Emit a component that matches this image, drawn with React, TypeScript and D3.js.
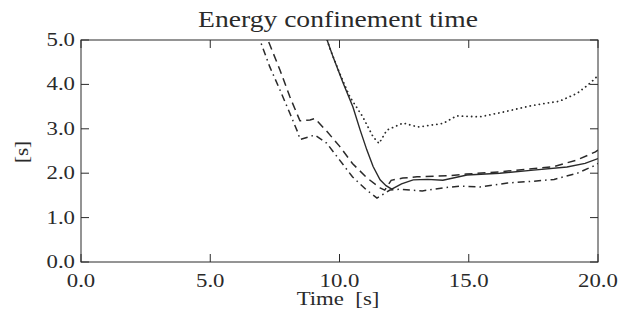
import React from "react";
import * as d3 from "d3";

const TITLE = "Energy confinement time";
const X_LABEL = "Time  [s]";
const Y_LABEL = "[s]";
const X_TICKS = [0, 5, 10, 15, 20];
const Y_TICKS = [0, 1, 2, 3, 4, 5];

// solid
const solidT = [9.2, 9.52, 9.75, 10.14, 10.52, 10.8, 11.06, 11.3, 11.57, 11.8, 12.02, 12.4, 12.85, 13.4, 14.0, 14.93, 16.2, 17.5, 18.8, 19.5, 20.0];
const solidV = [5.6, 5.0, 4.62, 4.03, 3.49, 2.97, 2.52, 2.15, 1.85, 1.72, 1.64, 1.76, 1.85, 1.86, 1.84, 1.96, 2.0, 2.07, 2.14, 2.22, 2.33];
// dotted
const dotT = [9.3, 9.6, 10.0, 10.4, 10.9, 11.3, 11.53, 11.83, 12.46, 13.04, 14.0, 14.53, 15.44, 16.2, 17.5, 18.5, 19.2, 19.7, 20.0];
const dotV = [5.5, 4.85, 4.26, 3.72, 3.27, 2.82, 2.67, 2.97, 3.13, 3.04, 3.12, 3.29, 3.27, 3.36, 3.53, 3.62, 3.8, 4.03, 4.2];
// dashed
const dashT = [6.9, 7.23, 7.7, 8.08, 8.47, 8.86, 9.05, 9.5, 10.0, 10.5, 11.05, 11.57, 11.75, 12.0, 12.45, 13.0, 14.15, 14.9, 16.2, 17.25, 18.3, 19.2, 19.9, 20.0];
const dashV = [5.5, 5.0, 4.32, 3.72, 3.18, 3.2, 3.23, 2.95, 2.61, 2.22, 1.9, 1.67, 1.62, 1.84, 1.89, 1.92, 1.94, 1.98, 2.03, 2.09, 2.15, 2.3, 2.48, 2.52];
// dash-dot
const ddT = [6.6, 6.92, 7.3, 7.7, 8.08, 8.4, 8.47, 9.05, 9.5, 10.0, 10.5, 11.05, 11.45, 11.95, 12.35, 13.2, 14.0, 14.66, 15.44, 16.5, 17.5, 18.3, 19.2, 19.9, 20.0];
const ddV = [5.5, 5.0, 4.4, 3.87, 3.35, 2.9, 2.76, 2.86, 2.68, 2.3, 1.92, 1.62, 1.44, 1.62, 1.64, 1.6, 1.67, 1.71, 1.69, 1.78, 1.82, 1.86, 2.0, 2.18, 2.22];

const W = 618;
const H = 321;
const M = { left: 81, right: 598, top: 40, bottom: 262 };
const INK = "#2a2a2a";
const FONT = '"Liberation Serif", "Times New Roman", Times, serif';

function Txt(props: { x: number; y: number; size: number; anchor: string; sx?: number; rot?: number; children: any }) {
  const { x, y, size, anchor, sx = 1.2, rot = 0, children } = props;
  return (
    <text
      transform={`translate(${x},${y}) rotate(${rot}) scale(${sx},1)`}
      textAnchor={anchor}
      style={{ fontFamily: FONT, fontSize: size, whiteSpace: "pre" }}
      fill={INK}
    >
      {children}
    </text>
  );
}

export default function App() {
  const x = d3.scaleLinear().domain([0, 20]).range([M.left, M.right]);
  const y = d3.scaleLinear().domain([0, 5]).range([M.bottom, M.top]);
  const line = d3
    .line<[number, number]>()
    .x((d) => x(d[0]))
    .y((d) => y(d[1]))
    .curve(d3.curveLinear);
  const mk = (t: number[], v: number[]) => line(t.map((tt, i) => [tt, v[i]] as [number, number])) || "";

  const tickLen = 8;
  return (
    <svg width={W} height={H} style={{ position: "absolute", left: 0, top: 0, background: "#fff" }}>
      <defs>
        <clipPath id="plotclip">
          <rect x={M.left} y={M.top} width={M.right - M.left} height={M.bottom - M.top} />
        </clipPath>
      </defs>
      <rect x={0} y={0} width={W} height={H} fill="#fff" />
      <Txt x={338} y={27} size={23} anchor="middle" sx={1.2}>
        {TITLE}
      </Txt>
      <g clipPath="url(#plotclip)" fill="none" stroke={INK}>
        <path d={mk(solidT, solidV)} strokeWidth={1.4} />
        <path d={mk(dotT, dotV)} strokeWidth={1.8} strokeDasharray="0.1 4.5" strokeLinecap="round" />
        <path d={mk(dashT, dashV)} strokeWidth={1.5} strokeDasharray="8 5" />
        <path d={mk(ddT, ddV)} strokeWidth={1.5} strokeDasharray="7 4 1.5 4" />
      </g>
      <rect
        x={M.left}
        y={M.top}
        width={M.right - M.left}
        height={M.bottom - M.top}
        fill="none"
        stroke={INK}
        strokeWidth={1}
      />
      {X_TICKS.map((t) => (
        <g key={"x" + t}>
          <line x1={x(t)} x2={x(t)} y1={M.bottom} y2={M.bottom - tickLen} stroke={INK} />
          <line x1={x(t)} x2={x(t)} y1={M.top} y2={M.top + tickLen} stroke={INK} />
          <Txt x={x(t)} y={287} size={19} anchor="middle">
            {t.toFixed(1)}
          </Txt>
        </g>
      ))}
      {Y_TICKS.map((v) => (
        <g key={"y" + v}>
          <line x1={M.left} x2={M.left + tickLen} y1={y(v)} y2={y(v)} stroke={INK} />
          <line x1={M.right} x2={M.right - tickLen} y1={y(v)} y2={y(v)} stroke={INK} />
          <Txt x={75} y={y(v) + 6} size={19} anchor="end">
            {v.toFixed(1)}
          </Txt>
        </g>
      ))}
      <Txt x={338} y={305} size={19} anchor="middle">
        {X_LABEL}
      </Txt>
      <Txt x={28} y={152} size={19} anchor="middle" rot={-90} sx={1.1}>
        {Y_LABEL}
      </Txt>
    </svg>
  );
}
